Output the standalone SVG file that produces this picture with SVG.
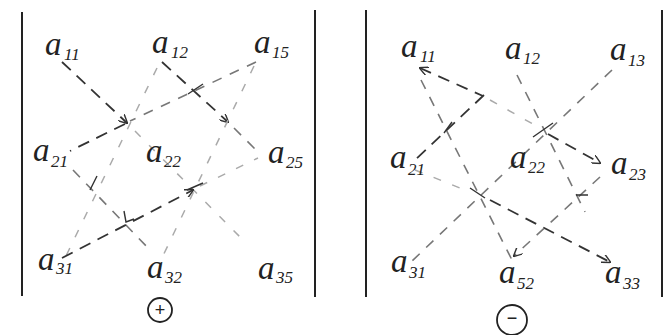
<svg xmlns="http://www.w3.org/2000/svg" width="664" height="335" viewBox="0 0 664 335">
<defs>
<marker id="arr" viewBox="0 0 10 10" refX="9" refY="5" markerWidth="9" markerHeight="9" markerUnits="userSpaceOnUse" orient="auto">
<path d="M0,0 L10,5 L0,10" fill="none" stroke="#333" stroke-width="1.6"/>
</marker>
<marker id="arrs" viewBox="0 0 10 10" refX="1" refY="5" markerWidth="9" markerHeight="9" markerUnits="userSpaceOnUse" orient="auto">
<path d="M10,0 L0,5 L10,10" fill="none" stroke="#333" stroke-width="1.6"/>
</marker>
</defs>
<style>
.a{font-family:"Liberation Serif","DejaVu Serif",serif;font-style:italic;font-size:33px;fill:#222}
.s{font-family:"Liberation Serif","DejaVu Serif",serif;font-style:italic;font-size:17px;fill:#222}
.sg{font-family:"Liberation Sans","DejaVu Sans",sans-serif;font-size:18px;fill:#222;text-anchor:middle}
.bar{stroke:#222;stroke-width:2;fill:none}
.d{stroke:#333;stroke-width:1.8;fill:none;stroke-dasharray:12 8}
.m{stroke:#777;stroke-width:1.6;fill:none;stroke-dasharray:10 9}
.f{stroke:#aaa;stroke-width:1.5;fill:none;stroke-dasharray:8 12}
.t{stroke:#333;stroke-width:1.4;fill:none}
</style>
<rect width="664" height="335" fill="#fff"/>
<g id="bars">
<line class="bar" x1="22" y1="12" x2="22" y2="296"/>
<line class="bar" x1="315" y1="10" x2="315" y2="297"/>
<line class="bar" x1="366" y1="10" x2="366" y2="297"/>
<line class="bar" x1="662" y1="10" x2="662" y2="297"/>
</g>
<g id="connectors">
<!-- left panel -->
<line class="d" x1="62" y1="62" x2="127" y2="123" marker-end="url(#arr)"/>
<line class="f" x1="135" y1="131" x2="245" y2="242"/>
<line class="d" x1="162" y1="62" x2="228" y2="122" marker-end="url(#arr)"/>
<line class="m" x1="234" y1="128" x2="258" y2="152"/>
<line class="f" x1="157" y1="68" x2="65" y2="258"/>
<line class="m" x1="256" y1="62" x2="130" y2="121"/>
<line class="d" x1="125" y1="124" x2="70" y2="151"/>
<line class="f" x1="254" y1="66" x2="160" y2="262"/>
<line class="m" x1="73" y1="170" x2="150" y2="250"/>
<line class="d" x1="62" y1="258" x2="193" y2="190" marker-end="url(#arr)"/>
<line class="f" x1="200" y1="186" x2="258" y2="158"/>
<path class="t" d="M188,94 L203,84 M90,190 L97,176 M124,211 L126,222 L134,219 M187,190 L203,183"/>
<!-- right panel -->
<line class="m" x1="612" y1="70" x2="410" y2="263"/>
<line class="d" x1="420" y1="68" x2="483" y2="96" marker-start="url(#arrs)"/>
<line class="f" x1="490" y1="100" x2="540" y2="128"/>
<line class="d" x1="548" y1="134" x2="600" y2="163" marker-end="url(#arr)"/>
<line class="d" x1="484" y1="95" x2="415" y2="160"/>
<line class="m" x1="421" y1="80" x2="512" y2="260"/>
<line class="f" x1="415" y1="170" x2="470" y2="192"/>
<line class="d" x1="490" y1="200" x2="610" y2="262" marker-end="url(#arr)"/>
<line class="m" x1="517" y1="75" x2="585" y2="212"/>
<line class="m" x1="600" y1="177" x2="514" y2="256" marker-end="url(#arr)"/>
<path class="t" d="M533,137 L553,123 M470,188 L485,198 M444,133 L452,122 M576,195 L588,195"/>
</g>
<g id="left-matrix">
<g id="L11"><text class="a" x="45" y="55">a</text><text class="s" x="64" y="60">11</text></g>
<g id="L12"><text class="a" x="152" y="53">a</text><text class="s" x="171" y="58">12</text></g>
<g id="L13"><text class="a" x="254" y="53">a</text><text class="s" x="272" y="58">15</text></g>
<g id="L21"><text class="a" x="33" y="161">a</text><text class="s" x="51" y="167">21</text></g>
<g id="L22"><text class="a" x="146" y="162">a</text><text class="s" x="164" y="167">22</text></g>
<g id="L23"><text class="a" x="268" y="163">a</text><text class="s" x="286" y="168">25</text></g>
<g id="L31"><text class="a" x="38" y="270">a</text><text class="s" x="56" y="274">31</text></g>
<g id="L32"><text class="a" x="147" y="278">a</text><text class="s" x="165" y="283">32</text></g>
<g id="L33"><text class="a" x="258" y="279">a</text><text class="s" x="276" y="283">35</text></g>
<g id="plus"><circle cx="160" cy="310" r="12" fill="none" stroke="#222" stroke-width="1.8"/><text class="sg" x="160" y="316">+</text></g>
</g>
<g id="right-matrix">
<g id="R11"><text class="a" x="401" y="57">a</text><text class="s" x="420" y="62">11</text></g>
<g id="R12"><text class="a" x="505" y="59">a</text><text class="s" x="523" y="64">12</text></g>
<g id="R13"><text class="a" x="610" y="60">a</text><text class="s" x="628" y="66">13</text></g>
<g id="R21"><text class="a" x="390" y="168">a</text><text class="s" x="408" y="175">21</text></g>
<g id="R22"><text class="a" x="510" y="168">a</text><text class="s" x="528" y="173">22</text></g>
<g id="R23"><text class="a" x="611" y="174">a</text><text class="s" x="629" y="180">23</text></g>
<g id="R31"><text class="a" x="391" y="272">a</text><text class="s" x="409" y="278">31</text></g>
<g id="R32"><text class="a" x="499" y="283">a</text><text class="s" x="517" y="289">52</text></g>
<g id="R33"><text class="a" x="605" y="283">a</text><text class="s" x="623" y="289">33</text></g>
<g id="minus"><circle cx="512" cy="320" r="15" fill="none" stroke="#222" stroke-width="1.8"/><text class="sg" x="512" y="324">−</text></g>
</g>
</svg>
